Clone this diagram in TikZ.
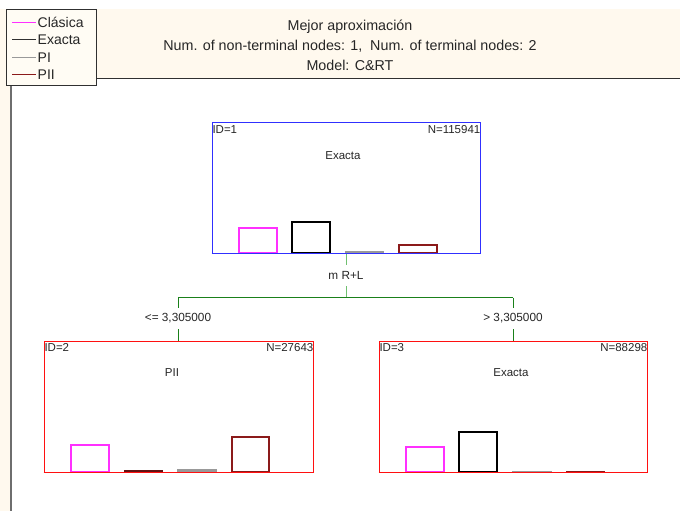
\documentclass[tikz,border=0pt]{standalone}
\usepackage{fontspec}
\setmainfont{Liberation Sans}
\definecolor{hdrbg}{HTML}{FFF9EE}
\definecolor{legbg}{HTML}{FFFCF4}
\definecolor{cmag}{HTML}{FF30FF}
\definecolor{cexa}{HTML}{303030}
\definecolor{cpi}{HTML}{999999}
\definecolor{cpii}{HTML}{8B1A1A}
\definecolor{gA}{HTML}{70C070}
\definecolor{gB}{HTML}{1A801A}
\definecolor{nblue}{HTML}{3030FF}
\definecolor{nred}{HTML}{FF1010}
\tikzset{
  treebox/.style={draw, line width=1pt, minimum width=#1, minimum height=131pt, inner sep=0pt},
  lbl/.style={font=\fontsize{11.5}{13}\selectfont, text=black!85, inner sep=0pt},
  ttl/.style={font=\fontsize{14.3}{16}\selectfont, text=black!85, inner sep=0pt},
  legt/.style={font=\fontsize{14}{16}\selectfont, text=black!85, inner sep=0pt},
  splitlbl/.style={font=\fontsize{11.8}{13}\selectfont, text=black!85, inner sep=0pt, minimum height=21pt},
  bar/.style={line width=1.15pt, draw=#1, fill=white},
  conn/.style={line width=1pt, draw=gB}
}
\begin{document}
\begin{tikzpicture}[x=1pt,y=-1pt]
\useasboundingbox (0,0) rectangle (680,511);
% header background
\fill[hdrbg] (0,9) rectangle (680,78);
\fill[hdrbg] (0,78) rectangle (10,511);
\draw[cexa, line width=1.1pt] (96,78.5) -- (680,78.5);
\draw[cexa!70, line width=1.3pt] (11,85) -- (11,511);
% title
\node[ttl] (t1) at (350,27) {Mejor aproximación};
\node[ttl] (t2) at (350,46) {Num. of non-terminal nodes: 1,\ \ Num. of terminal nodes: 2};
\node[ttl] (t3) at (350,65) {Model: C\&RT};
% legend
\node[draw=cexa, fill=legbg, line width=0.9pt, minimum width=90pt, minimum height=76pt, inner sep=0pt] (leg) at (51,47) {};
\draw[cmag, line width=1pt] (12,22.5) -- (36,22.5);
\draw[cexa, line width=1pt] (12,40) -- (36,40);
\draw[cpi, line width=1pt] (12,57.5) -- (36,57.5);
\draw[cpii, line width=1pt] (12,75) -- (36,75);
\node[legt, anchor=west] (l1) at (37.5,22) {Clásica};
\node[legt, anchor=west] (l2) at (37.5,40) {Exacta};
\node[legt, anchor=west] (l3) at (37.5,57.5) {PI};
\node[legt, anchor=west] (l4) at (37.5,75) {PII};
% node 1
\node[treebox=268pt, draw=nblue] (n1) at (346,187.5) {};
\node[lbl, anchor=north west] (n1id) at ([xshift=0.8pt,yshift=-3.5pt]n1.north west) {ID=1};
\node[lbl, anchor=north east] (n1n) at ([yshift=-3.5pt]n1.north east) {N=115941};
\node[lbl] (n1c) at (343,156) {Exacta};
\draw[bar=cmag] (239,253) rectangle (277,228);
\draw[bar=black] (292,253) rectangle (330,222);
\draw[bar=cpi] (346,253) rectangle (383,252);
\draw[bar=cpii] (399,253) rectangle (437,245);
\draw[nblue, line width=1pt] (n1.south west) -- (n1.south east);
% split
\node[splitlbl] (sp) at (346,275.5) {m R+L};
\coordinate (j) at (346,297.5);
\coordinate (jl) at (178,297.5);
\coordinate (jr) at (513,297.5);
\node[splitlbl] (cl) at (178,318.5) {<= 3,305000};
\node[splitlbl] (cr) at (513,318.5) {> 3,305000};
% node 2
\node[treebox=269pt, draw=nred] (n2) at (178.5,406.5) {};
\node[lbl, anchor=north west] (n2id) at ([xshift=0.8pt,yshift=-2.5pt]n2.north west) {ID=2};
\node[lbl, anchor=north east] (n2n) at ([yshift=-2.5pt]n2.north east) {N=27643};
\node[lbl] (n2c) at (172,373) {PII};
\draw[bar=cmag] (71,472) rectangle (109,445);
\draw[bar=cpii!70!black] (125,472) rectangle (162,471);
\draw[bar=cpi] (178,472) rectangle (216,470);
\draw[bar=cpii] (232,472) rectangle (269,437);
\draw[nred, line width=1pt] (n2.south west) -- (n2.south east);
% node 3
\node[treebox=268pt, draw=nred] (n3) at (513,406.5) {};
\node[lbl, anchor=north west] (n3id) at ([xshift=0.8pt,yshift=-2.5pt]n3.north west) {ID=3};
\node[lbl, anchor=north east] (n3n) at ([yshift=-2.5pt]n3.north east) {N=88298};
\node[lbl] (n3c) at (511,373) {Exacta};
\draw[bar=cmag] (406,472) rectangle (444,447);
\draw[bar=black] (459,472) rectangle (497,432);
\draw[bar=cpi] (513,472) rectangle (551,471.5);
\draw[bar=cpii] (567,472) rectangle (604,471.5);
\draw[nred, line width=1pt] (n3.south west) -- (n3.south east);
% connectors
\draw[conn, draw=gA] (n1.south) -- (sp.north);
\draw[conn, draw=gA] (sp.south) -- (j);
\draw[conn] (jl) -- (jr);
\draw[conn] (jl) -- (cl.north);
\draw[conn] (cl.south) -- (n2.north -| cl.south);
\draw[conn] (jr) -- (cr.north);
\draw[conn] (cr.south) -- (n3.north -| cr.south);
\end{tikzpicture}
\end{document}
